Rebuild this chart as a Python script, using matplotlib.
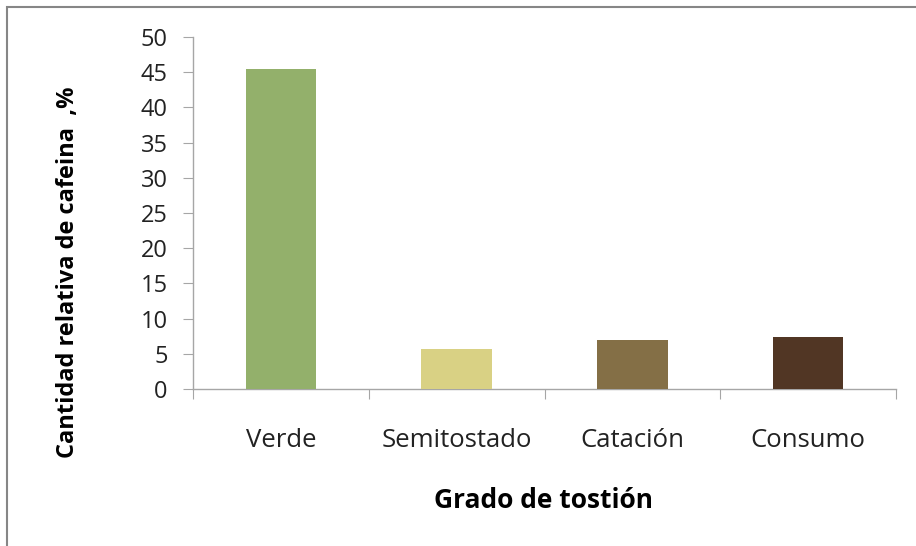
import matplotlib
matplotlib.use("Agg")
from matplotlib import pyplot
from matplotlib.patches import Rectangle

categories = ["Verde", "Semitostado", "Catación", "Consumo"]
cafeina = [45.5, 5.7, 7.0, 7.4]
colores = ["#93b06b", "#d9d184", "#846f46", "#513624"]
y_ticks = [0, 5, 10, 15, 20, 25, 30, 35, 40, 45, 50]

pyplot.rcParams["font.family"] = ["Open Sans", "DejaVu Sans"]

fig = pyplot.figure(
    figsize=(9.16, 5.46),
    dpi=100,
)
# marco gris del grafico
fig.patches.append(
    Rectangle(
        (7 / 916, -0.1),
        1.2,
        1 - 7 / 546 + 0.1,
        transform=fig.transFigure,
        fill=False,
        edgecolor="#868686",
        linewidth=1.5,
    )
)
ax = fig.add_axes(
    [193 / 916, 1 - 389 / 546, (896 - 193) / 916, (389 - 37) / 546]
)
positions = list(range(len(categories)))
ax.bar(
    positions,
    cafeina,
    width=0.4,
    color=colores,
    zorder=3,
)
ax.set_xlim(-0.5, len(categories) - 0.5)
ax.set_ylim(0, 50)
ax.set_yticks(y_ticks)
ax.set_xticks(
    [p - 0.5 for p in positions] + [len(categories) - 0.5],
)
ax.set_xticklabels([])
ax.set_xticks(positions, minor=True)
ax.set_xticklabels(categories, minor=True)
for side in ["top", "right"]:
    ax.spines[side].set_visible(False)
for side in ["left", "bottom"]:
    ax.spines[side].set_color("#a6a6a6")
    ax.spines[side].set_linewidth(1.0)
ax.tick_params(
    axis="y",
    length=7.2,
    color="#a6a6a6",
    labelsize=17,
    labelcolor="#222222",
    pad=11,
)
ax.tick_params(
    axis="x",
    which="major",
    length=7.5,
    color="#a6a6a6",
)
ax.tick_params(
    axis="x",
    which="minor",
    length=0,
    labelsize=18.5,
    labelcolor="#222222",
    pad=28,
)
fig.text(
    68 / 916,
    1 - 272 / 546,
    "Cantidad relativa de cafeina  ,%",
    rotation=90,
    ha="center",
    va="center",
    fontsize=17,
    fontweight="bold",
)
fig.text(
    544 / 916,
    1 - 500 / 546,
    "Grado de tostión",
    ha="center",
    va="center",
    fontsize=19,
    fontweight="bold",
)
fig.savefig("out.png", dpi=100)
